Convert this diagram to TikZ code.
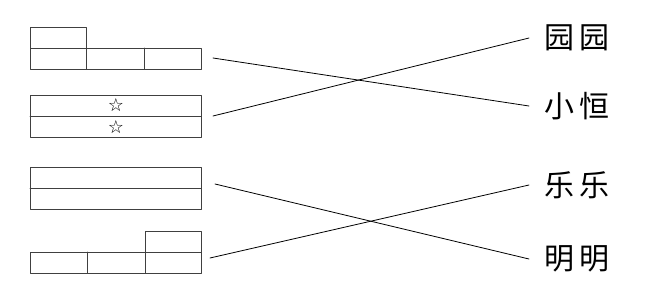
\documentclass[tikz,border=0pt]{standalone}
\usepackage{fontspec}
\newfontfamily\cjk{Noto Sans CJK SC}
\newfontfamily\symfont{DejaVu Sans}

\begin{document}
\begin{tikzpicture}[x=1pt, y=-1pt, line width=0.8pt, line cap=round, line join=round,
  box/.style={draw=black!75, line width=0.7pt},
  kidname/.style={anchor=west, inner xsep=15pt, inner ysep=0pt, font=\cjk\fontsize{30}{32}\selectfont},
  star/.style={inner sep=0pt, font=\symfont\fontsize{18}{19}\selectfont}]

  %% ════ 图 1：上面一格，下面三格 ════
  \draw[box] (30,27) rectangle (86,48);
  \draw[box] (30,48) rectangle (201,69);
  \draw[box] (86,48) -- (86,69);
  \draw[box] (144,48) -- (144,69);
  \coordinate (f1) at (213,58);

  %% ════ 图 2：两格，各一颗星 ════
  \draw[box] (30,95) rectangle (201,137);
  \draw[box] (30,116) -- (201,116);
  \node[star] (s1) at (116,105) {☆};
  \node[star] (s2) at (116,127) {☆};
  \coordinate (f2) at (213,116);

  %% ════ 图 3：两长格 ════
  \draw[box] (30,167) rectangle (201,209);
  \draw[box] (30,188) -- (201,188);
  \coordinate (f3) at (215,184);

  %% ════ 图 4：下面三格，右边上面一格 ════
  \draw[box] (145,231) rectangle (201,252);
  \draw[box] (30,252) rectangle (201,273);
  \draw[box] (87,252) -- (87,273);
  \draw[box] (145,252) -- (145,273);
  \coordinate (f4) at (210,258);

  %% ════ 名字 ════
  \node[kidname] (yy) at (529,38) {园\hspace{5pt}园};
  \node[kidname] (xh) at (529,106) {小\hspace{5pt}恒};
  \node[kidname] (ll) at (529,185) {乐\hspace{5pt}乐};
  \node[kidname] (mm) at (529,259) {明\hspace{5pt}明};

  %% ════ 连线 ════
  \draw (f1) -- (xh.west);
  \draw (f2) -- (yy.west);
  \draw (f3) -- (mm.west);
  \draw (f4) -- (ll.west);

  % 钉死画布
  \pgfresetboundingbox
  \path[use as bounding box] (0,0) rectangle (654,297);
\end{tikzpicture}
\end{document}
